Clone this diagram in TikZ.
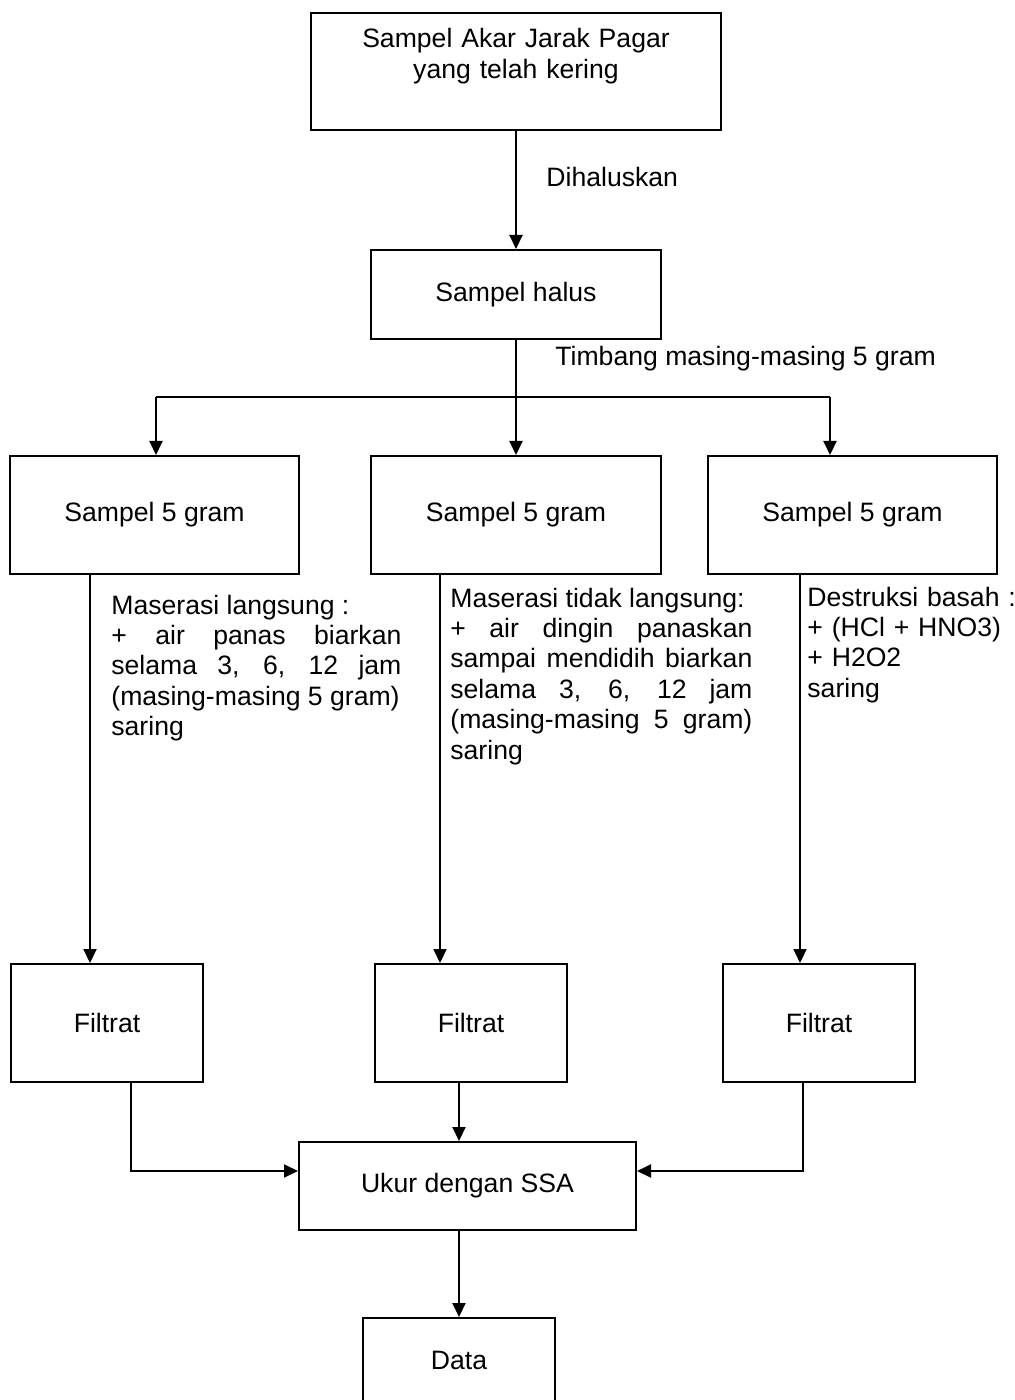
\documentclass[tikz,border=0pt]{standalone}
\usepackage{fontspec}
\setmainfont{Liberation Sans}
\usetikzlibrary{arrows.meta,calc}
\newcommand\fsz{\fontsize{13.3}{15.2}\selectfont}
\begin{document}
\begin{tikzpicture}[x=0.5pt,y=-0.5pt,
  box/.style={draw=black,line width=1pt,rectangle,inner sep=0pt,font=\fsz,align=center},
  conn/.style={line width=1pt},
  arr/.style={conn,-{Triangle[length=7pt,width=6.5pt]}},
  txt/.style={inner sep=0pt,font=\fsz},
]
\fill[white] (0,0) rectangle (1015,1400);
\useasboundingbox (0,0) rectangle (1015,1400);
\clip (0,0) rectangle (1015,1400);

% boxes
\node[box,minimum width=205pt,minimum height=58.5pt] (b1) at (516,71.5) {};
\node[txt,anchor=base,text width=200pt,align=center] (t1) at (516,48) {Sampel Akar Jarak Pagar\\yang telah kering};
\node[box,minimum width=145pt,minimum height=44.5pt] (b2) at (516,294.5) {Sampel halus};

\node[box,minimum width=144.5pt,minimum height=59pt] (b3a) at (154.5,515) {Sampel 5 gram};
\node[box,minimum width=145pt,minimum height=59pt] (b3b) at (516,515) {Sampel 5 gram};
\node[box,minimum width=144.5pt,minimum height=59pt] (b3c) at (852.5,515) {Sampel 5 gram};

\node[box,minimum width=96pt,minimum height=59pt] (b4a) at (107,1023) {Filtrat};
\node[box,minimum width=96pt,minimum height=59pt] (b4b) at (471,1023) {Filtrat};
\node[box,minimum width=96pt,minimum height=59pt] (b4c) at (819,1023) {Filtrat};

\node[box,minimum width=168.5pt,minimum height=44pt] (b5) at (467.5,1186) {Ukur dengan SSA};
\node[box,minimum width=96pt,minimum height=42.5pt] (b6) at (459,1360.5) {Data};

% labels
\node[txt,anchor=base west] (l1) at (546,187) {Dihaluskan};
\node[txt,anchor=base west] (l2) at (555,366) {Timbang masing-masing 5 gram};

\node[txt,anchor=base west,text width=145pt,align=justify] (m1) at (111,614)
 {\hyphenpenalty=10000 Maserasi langsung :\newline
  + air panas biarkan\linebreak
  selama 3, 6, 12 jam\linebreak
  (masing-masing 5 gram)\newline
  saring};
\node[txt,anchor=base west,text width=151pt,align=justify] (m2) at (450,607)
 {\hyphenpenalty=10000 Maserasi tidak langsung:\newline
  + air dingin panaskan\linebreak
  sampai mendidih biarkan\linebreak
  selama 3, 6, 12 jam\linebreak
  (masing-masing 5 gram)\linebreak
  saring};
\node[txt,anchor=base west,text width=110pt,align=left] (m3) at (807,606)
 {Destruksi basah :\\+ (HCl + HNO3)\\+ H2O2\\saring};

% coordinates
\coordinate (sp) at (516,397);
\coordinate (s1) at (156,397);
\coordinate (s3) at (830,397);
\coordinate (xL) at (90,0);
\coordinate (xM) at (440,0);
\coordinate (xR) at (800,0);
\coordinate (cL) at (131,0);
\coordinate (cM) at (459,0);
\coordinate (cR) at (803,0);
\coordinate (jy) at (0,1171);

% connectors
\draw[arr] (b1.south) -- (b2.north);
\draw[conn] (b2.south) -- (sp);
\draw[conn] (s1) -- (s3);
\draw[arr] (s1) -- (b3a.north -| s1);
\draw[arr] (sp) -- (b3b.north);
\draw[arr] (s3) -- (b3c.north -| s3);

\draw[arr] (b3a.south -| xL) -- (b4a.north -| xL);
\draw[arr] (b3b.south -| xM) -- (b4b.north -| xM);
\draw[arr] (b3c.south -| xR) -- (b4c.north -| xR);

\draw[arr] (b4a.south -| cL) |- (b5.west |- jy);
\draw[arr] (b4b.south -| cM) -- (b5.north -| cM);
\draw[arr] (b4c.south -| cR) |- (b5.east |- jy);
\draw[arr] (b5.south -| b6.north) -- (b6.north);
\end{tikzpicture}
\end{document}
